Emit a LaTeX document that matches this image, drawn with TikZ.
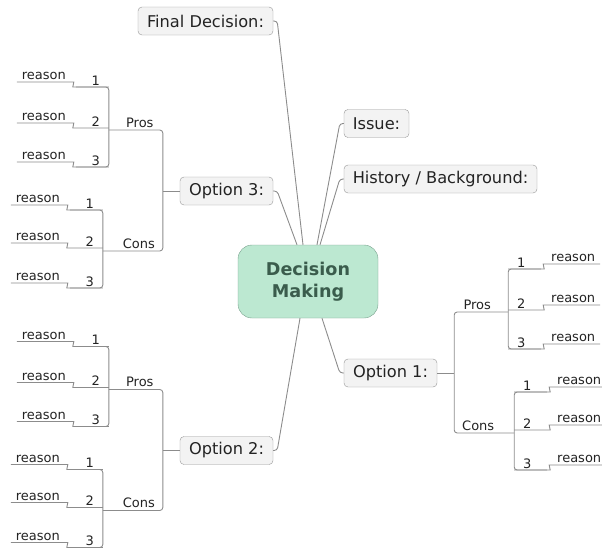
\documentclass[tikz,border=0pt]{standalone}
\usepackage{fontspec}
\setmainfont{DejaVu Sans}

\definecolor{linegray}{RGB}{140,140,140}
\definecolor{boxgray}{RGB}{150,150,150}
\definecolor{boxfill}{RGB}{243,243,243}
\definecolor{mint}{RGB}{188,232,209}
\definecolor{mintborder}{RGB}{120,160,140}
\definecolor{minttext}{RGB}{58,92,76}
\definecolor{ink}{RGB}{35,35,35}

\tikzstyle{topic}=[draw=boxgray,fill=boxfill,rounded corners=4pt,
    minimum height=28pt,inner sep=0pt,text=ink,font=\fontsize{16.2}{19}\selectfont]
\tikzstyle{central topic}=[draw=mintborder,fill=mint,rounded corners=14pt,
    minimum width=140pt,minimum height=73pt,align=center,text=minttext,
    font=\fontsize{17.6}{22}\selectfont\bfseries]
\tikzstyle{branch}=[draw=linegray,line width=0.9pt,rounded corners=3pt]
\tikzstyle{subtopic}=[anchor=base,inner sep=0pt,text=ink,
    font=\fontsize{13}{15}\selectfont]

\newcommand{\reasons}[3]{
    \foreach \idx/\y in {#3}{
        \coordinate (#1\idx) at (#2,\y);
        \coordinate (#1\idx-e) at ({#2+33},\y);
        \coordinate (#1\idx-r) at ({#2+38},{\y-5});
        \coordinate (#1\idx-f) at ({#2+92},{\y-5});
        \node[subtopic] (#1\idx-n) at ({#2+13},{\y-2}) {\idx};
        \node[subtopic] (#1\idx-w) at ({#2+65},{\y-7.5}) {reason};
        \draw[branch] (#1\idx) -- (#1\idx-e) .. controls +(3,0) and +(-3,0) ..
            (#1\idx-r) -- (#1\idx-f);
    }
    \draw[branch] (#11-e) -- (#11) -- (#13) -- (#13-e);
}
\newcommand{\optionbranch}[3]{
    \begin{scope}[shift={(#1.#2)},xscale=#3]
        \coordinate (#1-stub) at (17,0);
        \coordinate (#1-pros) at (17,-61);
        \coordinate (#1-cons) at (17,60);
        \coordinate (#1-pros-end) at (71,-61);
        \coordinate (#1-cons-end) at (77,60);
        \node[subtopic] (#1-pros-label) at (40,-64) {Pros};
        \node[subtopic] (#1-cons-label) at (41,57) {Cons};
        \draw[branch] (#1.#2) -- (#1-stub);
        \draw[branch] (#1-pros-end) -- (#1-pros) -- (#1-cons) -- (#1-cons-end);
        \reasons{#1-p}{71}{1/-104,2/-63,3/-24}
        \reasons{#1-c}{77}{1/19,2/57,3/97}
    \end{scope}
}

\begin{document}
\begin{tikzpicture}[x=1pt,y=-1pt]
    \useasboundingbox (0,0) rectangle (602,549);
    \node[central topic] (central) at (308,281.5) {Decision\\Making};
    %
    \node[topic,minimum width=135pt] (final) at (205.5,21) {Final Decision:};
    \node[topic,minimum width=65pt] (issue) at (376.5,123.5) {Issue:};
    \node[topic,minimum width=193pt] (history) at (440.5,179) {History / Background:};
    \node[topic,minimum width=93pt] (opt3) at (226.5,191) {Option 3:};
    \node[topic,minimum width=93pt] (opt2) at (226.5,450.5) {Option 2:};
    \node[topic,minimum width=93pt] (opt1) at (390.5,373) {Option 1:};
    %
    \draw[branch] ([xshift=-5pt]central.north) -- ([xshift=4pt]final.east) -- (final.east);
    \draw[branch] ([xshift=-11pt]central.north) -- ([xshift=4pt]opt3.east) -- (opt3.east);
    \draw[branch] ([xshift=9pt]central.north) -- ([xshift=-4pt]issue.west) -- (issue.west);
    \draw[branch] ([xshift=12pt]central.north) -- ([xshift=-4pt]history.west) -- (history.west);
    \draw[branch] ([xshift=14pt]central.south) -- ([xshift=-4pt]opt1.west) -- (opt1.west);
    \draw[branch] ([xshift=-8pt]central.south) -- ([xshift=4pt]opt2.east) -- (opt2.east);
    %
    \optionbranch{opt3}{west}{-1}
    \optionbranch{opt2}{west}{-1}
    \optionbranch{opt1}{east}{1}
\end{tikzpicture}
\end{document}
